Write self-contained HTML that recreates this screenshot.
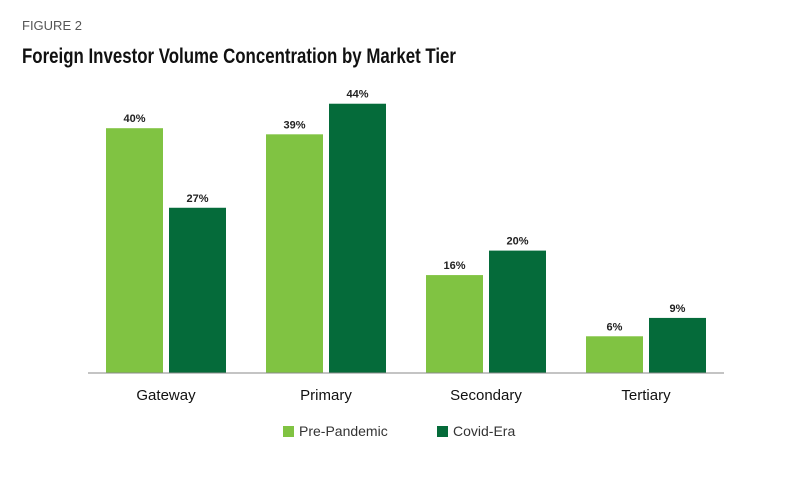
<!DOCTYPE html>
<html><head><meta charset="utf-8"><style>
body{margin:0;width:800px;height:480px;background:#fff;font-family:"Liberation Sans",sans-serif;overflow:hidden}
</style></head><body>
<svg width="800" height="480">
<text x="22" y="30" font-size="13" fill="#555">FIGURE 2</text>
<text x="22" y="63" font-size="21" font-weight="bold" fill="#111" textLength="434" lengthAdjust="spacingAndGlyphs">Foreign Investor Volume Concentration by Market Tier</text>
<g id="bars"></g>
<line x1="88" y1="373" x2="724" y2="373" stroke="#888" stroke-width="1"/>
<g>
<rect x="283" y="426" width="11" height="11" fill="#80c342"/>
<text x="299" y="436" font-size="14" fill="#333">Pre-Pandemic</text>
<rect x="437" y="426" width="11" height="11" fill="#056b3a"/>
<text x="453" y="436" font-size="14" fill="#333">Covid-Era</text>
</g>
</svg>
<script>
const categories=["Gateway","Primary","Secondary","Tertiary"];
const preValues=[40,39,16,6];
const covidValues=[27,44,20,9];
const NS="http://www.w3.org/2000/svg";
const g=document.getElementById("bars");
const base=373, scale=6.12;
function y(v){return base-v*scale;}
function groupX(i){return 106+i*160;}
function mk(t,a){const e=document.createElementNS(NS,t);for(const k in a)e.setAttribute(k,a[k]);g.appendChild(e);return e;}
categories.forEach((c,i)=>{
  const x0=groupX(i);
  [[preValues[i],"#80c342",0,"pre"],[covidValues[i],"#056b3a",63,"covid"]].forEach(([v,col,off,s])=>{
    const r=mk("rect",{x:x0+off,y:y(v),width:57,height:v*scale,fill:col});
    
    
    const t=mk("text",{x:x0+off+28.5,y:y(v)-6,"text-anchor":"middle","font-size":"11","font-weight":"bold",fill:"#222"});
    t.textContent=v+"%";
    
    
  });
  const l=mk("text",{x:x0+60,y:400,"text-anchor":"middle","font-size":"15",fill:"#111"});
  l.textContent=c;
  
  
});
</script>
</body></html>
